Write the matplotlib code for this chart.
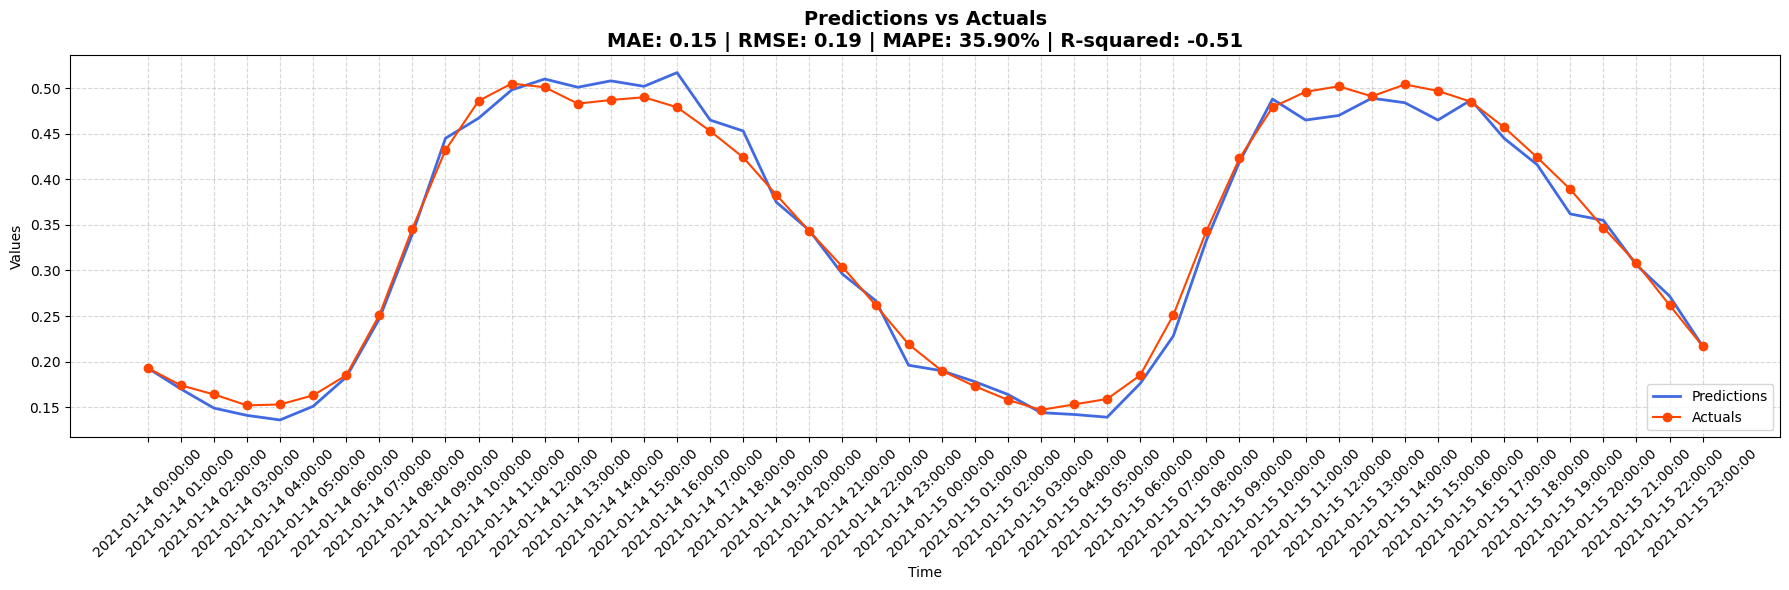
import matplotlib
matplotlib.use('Agg')
from matplotlib import pyplot as plt
import pandas as pd

times = pd.date_range('2021-01-14 00:00:00', periods=48, freq='h').strftime('%Y-%m-%d %H:%M:%S').tolist()

actuals = [0.193, 0.174, 0.164, 0.152, 0.153, 0.163, 0.185, 0.251, 0.346, 0.432,
           0.486, 0.505, 0.501, 0.483, 0.487, 0.490, 0.479, 0.453, 0.424, 0.383,
           0.343, 0.304, 0.262, 0.219, 0.190, 0.173, 0.158, 0.147, 0.153, 0.159,
           0.185, 0.251, 0.343, 0.423, 0.479, 0.496, 0.502, 0.491, 0.504, 0.497,
           0.485, 0.457, 0.424, 0.389, 0.347, 0.308, 0.262, 0.217]

predictions = [0.193, 0.170, 0.149, 0.141, 0.136, 0.151, 0.183, 0.247, 0.340, 0.445,
               0.467, 0.498, 0.510, 0.501, 0.508, 0.502, 0.517, 0.465, 0.453, 0.375,
               0.344, 0.296, 0.267, 0.196, 0.190, 0.178, 0.164, 0.144, 0.142, 0.139,
               0.176, 0.228, 0.333, 0.419, 0.488, 0.465, 0.470, 0.489, 0.484, 0.465,
               0.487, 0.445, 0.416, 0.362, 0.355, 0.306, 0.272, 0.217]

title = 'Predictions vs Actuals\nMAE: 0.15 | RMSE: 0.19 | MAPE: 35.90% | R-squared: -0.51'

x = list(range(len(times)))

fig = plt.figure(figsize=(17.9, 5.9), dpi=100)
plt.plot(x, predictions, label='Predictions', color='royalblue', linewidth=2)
plt.plot(x, actuals, label='Actuals', color='orangered', marker='o', linewidth=1.5)
plt.xticks(x, times, rotation=45)
plt.xlabel('Time')
plt.ylabel('Values')
plt.title(title, fontsize=14, fontweight='bold')
plt.grid(True, linestyle='--', alpha=0.5)
plt.legend(loc='lower right')
# match the reference's cropped layout
plt.subplots_adjust(left=0.0391, right=0.9946, top=0.9063, bottom=0.2588)
plt.savefig('out.png')
